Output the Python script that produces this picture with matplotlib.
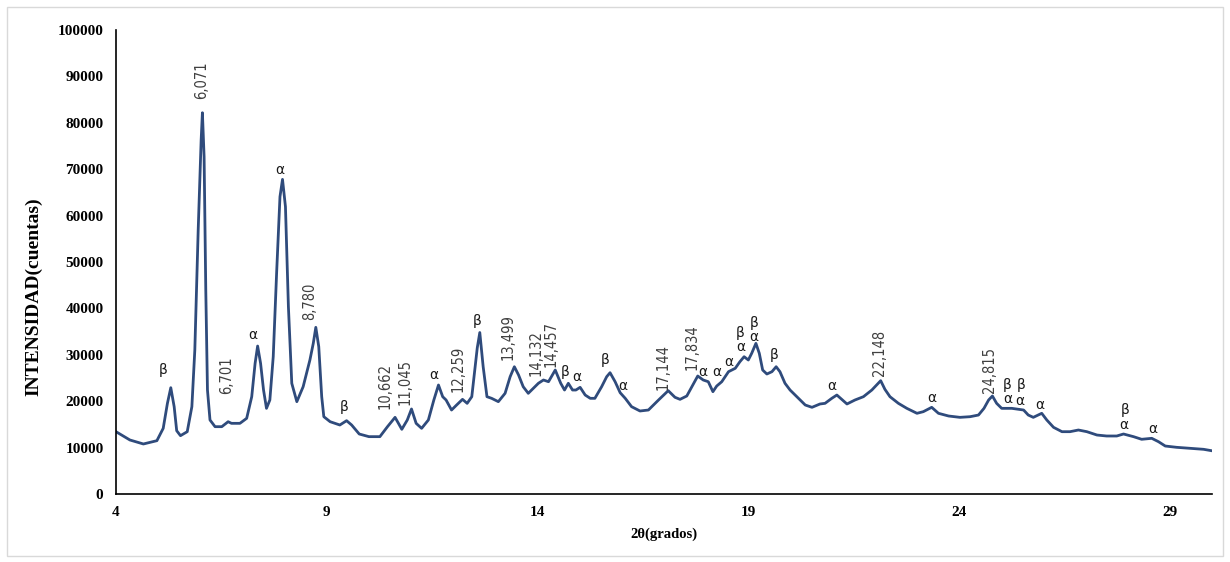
import matplotlib.pyplot as plt
from matplotlib.patches import Rectangle

dos_theta = [4.00, 4.33, 4.65, 4.97, 5.12, 5.22, 5.30, 5.38, 5.44, 5.53, 5.69, 5.80, 5.87, 5.95,
             6.02, 6.05, 6.09, 6.13, 6.17, 6.23, 6.35, 6.51, 6.66, 6.74, 6.94, 7.10, 7.22, 7.30,
             7.36, 7.43, 7.50, 7.57, 7.65, 7.73, 7.81, 7.89, 7.95, 8.02, 8.09, 8.17, 8.29, 8.44,
             8.60, 8.68, 8.74, 8.81, 8.88, 8.93, 9.08, 9.31, 9.47, 9.59, 9.77, 10.00, 10.26, 10.44,
             10.62, 10.78, 10.91, 11.01, 11.12, 11.25, 11.41, 11.54, 11.65, 11.75, 11.83, 11.96,
             12.08, 12.22, 12.33, 12.44, 12.52, 12.57, 12.63, 12.71, 12.80, 12.91, 13.07, 13.23,
             13.35, 13.45, 13.55, 13.66, 13.78, 13.90, 14.02, 14.14, 14.26, 14.42, 14.55, 14.64,
             14.73, 14.83, 14.91, 15.01, 15.13, 15.25, 15.36, 15.52, 15.64, 15.72, 15.84, 15.96,
             16.08, 16.23, 16.43, 16.63, 16.87, 17.10, 17.26, 17.38, 17.54, 17.66, 17.80, 17.93,
             18.05, 18.16, 18.25, 18.37, 18.53, 18.69, 18.80, 18.90, 19.00, 19.08, 19.18, 19.26,
             19.34, 19.44, 19.56, 19.66, 19.75, 19.87, 19.99, 20.15, 20.35, 20.51, 20.70, 20.82,
             20.98, 21.10, 21.34, 21.53, 21.73, 21.93, 22.14, 22.24, 22.36, 22.56, 22.76, 23.00,
             23.15, 23.35, 23.51, 23.75, 24.02, 24.26, 24.46, 24.59, 24.70, 24.79, 24.89, 25.01,
             25.25, 25.53, 25.64, 25.76, 25.96, 26.08, 26.24, 26.44, 26.63, 26.83, 27.03, 27.27,
             27.50, 27.74, 27.90, 28.14, 28.33, 28.57, 28.73, 28.89, 29.16, 29.48, 29.80, 29.99]
intensidad = [13430, 11640, 10780, 11490, 14150, 19540, 22910, 18820, 13640, 12570, 13430, 18820,
              31030, 56890, 76290, 82170, 72690, 43960, 22410, 15950, 14510, 14510, 15580, 15230,
              15230, 16310, 20970, 28160, 31890, 28160, 22410, 18460, 20260, 29590, 47560, 64070,
              67810, 61910, 40360, 23850, 19900, 23130, 28880, 32470, 35920, 31750, 20970, 16660,
              15580, 14870, 15800, 14870, 12930, 12360, 12360, 14510, 16520, 13940, 15950, 18320,
              15230, 14150, 15950, 20260, 23490, 20970, 20260, 18100, 19180, 20400, 19540, 20970,
              27430, 31500, 34800, 27430, 20970, 20620, 19900, 21700, 25280, 27430, 25640, 23120,
              21700, 22780, 23860, 24570, 24200, 26720, 23860, 22410, 23860, 22410, 22410, 22990,
              21330, 20620, 20620, 23120, 25280, 26140, 24200, 21830, 20620, 18820, 17890, 18100,
              20260, 22270, 20840, 20400, 21120, 23120, 25430, 24570, 24200, 22050, 23270, 24200,
              26360, 27090, 28510, 29590, 28880, 30320, 32470, 30320, 26720, 25860, 26360, 27430,
              26360, 23860, 22410, 20970, 19180, 18680, 19400, 19540, 20620, 21330, 19400, 20260,
              20970, 22410, 24420, 22560, 20970, 19540, 18460, 17390, 17740, 18680, 17390, 16810,
              16520, 16660, 17020, 18460, 20260, 21120, 19540, 18460, 18460, 18100, 17020, 16520,
              17390, 15950, 14370, 13430, 13430, 13790, 13430, 12710, 12500, 12500, 12930, 12350,
              11790, 12000, 11270, 10340, 10060, 9850, 9630, 9330]

# etiquetas de picos (valor 2theta, rotadas)
picos_txt = ['6,071', '6,701', '8,780', '10,662', '11,045', '12,259', '13,499', '14,132',
             '14,457', '17,144', '17,834', '22,148', '24,815']
picos_x = [6.04, 6.63, 8.60, 10.38, 10.86, 12.11, 13.30, 13.97, 14.31, 16.98, 17.67, 22.11, 24.72]
picos_y = [89200, 25640, 41590, 23270, 24140, 26940, 33830, 30390, 32320, 27430, 31750, 30490, 26720]

# fases alfa / beta
fase_txt = ['β', 'α', 'α', 'β', 'α', 'β', 'β', 'α', 'β', 'α', 'α', 'α', 'α', 'β', 'α', 'β', 'α',
            'β', 'α', 'α', 'β', 'α', 'β', 'α', 'α', 'β', 'α', 'α']
fase_x = [5.12, 7.25, 7.89, 9.41, 11.54, 12.57, 14.65, 14.94, 15.60, 16.02, 17.93, 18.25, 18.53,
          18.80, 18.82, 19.14, 19.14, 19.62, 20.98, 23.35, 25.13, 25.15, 25.47, 25.45, 25.92,
          27.94, 27.91, 28.59]
fase_y = [26720, 34260, 69820, 18750, 25640, 37350, 26360, 25140, 28880, 23270, 26360, 26360,
          28510, 34630, 31610, 36920, 33900, 29950, 23270, 20620, 23490, 20400, 23490, 20110,
          19180, 18100, 14870, 13940]

fig = plt.figure(figsize=(12.3, 5.62), dpi=100)
fig.patches.append(Rectangle((0.006, 0.011), 0.988, 0.976, transform=fig.transFigure,
                             fill=False, edgecolor='#d9d9d9', linewidth=1))
ax = fig.add_axes([0.0943, 0.121, 0.8911, 0.8256])

ax.plot(dos_theta, intensidad, color='#2f4b7c', linewidth=2.0)

for t, x, y in zip(picos_txt, picos_x, picos_y):
    ax.text(x, y, t, rotation=90, ha='center', va='center', fontsize=10.5,
            color='#404040', family='DejaVu Sans', fontstretch='condensed')
for t, x, y in zip(fase_txt, fase_x, fase_y):
    ax.text(x, y, t, ha='center', va='center', fontsize=10, color='#1a1a1a',
            family='DejaVu Sans')

ax.set_xlim(4, 30)
ax.set_ylim(0, 100000)
ax.set_xticks([4, 9, 14, 19, 24, 29])
ax.set_yticks(range(0, 100001, 10000))
ax.tick_params(length=0, labelsize=11, pad=9)
for lab in ax.get_xticklabels() + ax.get_yticklabels():
    lab.set_family('Liberation Serif')
    lab.set_fontweight('bold')

ax.set_xlabel('2θ(grados)', family='Liberation Serif', fontweight='bold', fontsize=10.5, labelpad=6)
ax.set_ylabel('INTENSIDAD(cuentas)', family='Liberation Serif', fontweight='bold', fontsize=14)
ax.yaxis.set_label_coords(-0.0675, 0.425)

ax.spines['top'].set_visible(False)
ax.spines['right'].set_visible(False)
ax.spines['left'].set_linewidth(1.2)
ax.spines['bottom'].set_linewidth(1.2)

fig.savefig('out.png', dpi=100)
